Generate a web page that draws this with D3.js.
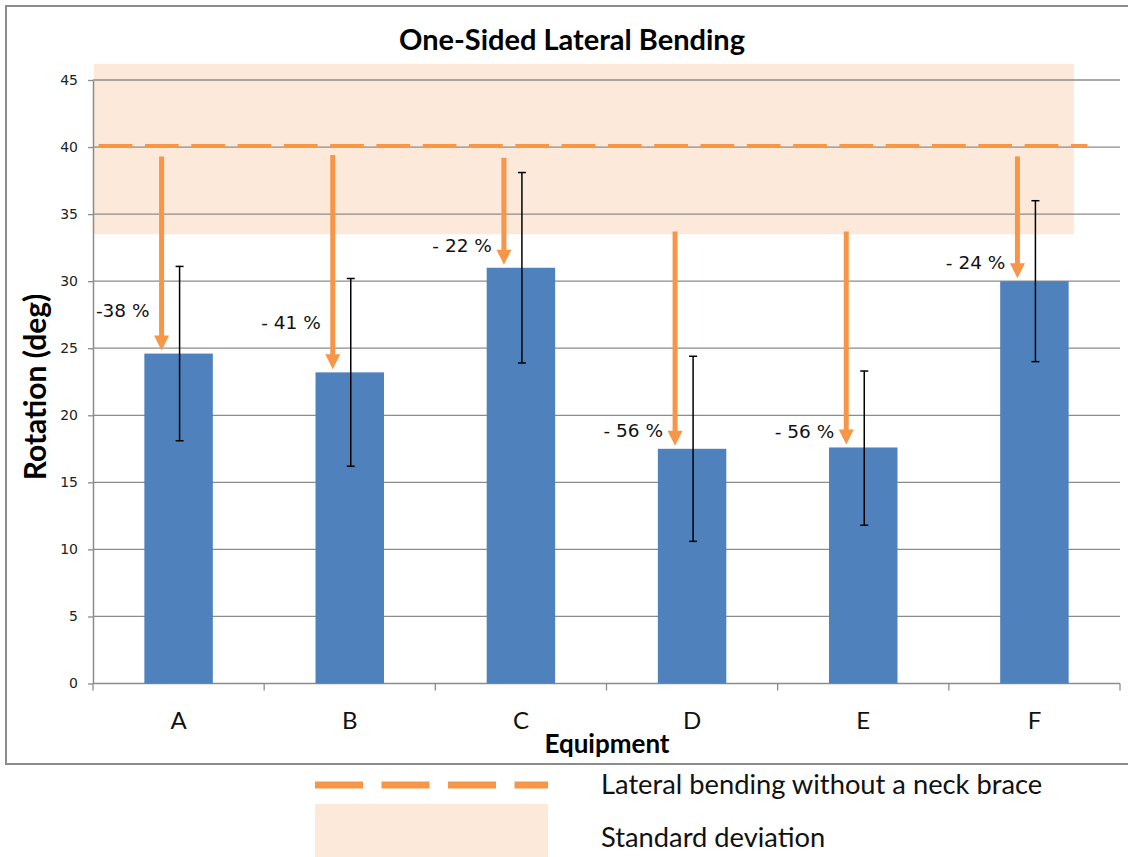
<!DOCTYPE html>
<html>
<head>
<meta charset="utf-8">
<script src="https://cdn.jsdelivr.net/npm/d3@7"></script>
<style>
  body { margin: 0; background: #fff; }
</style>
</head>
<body>
<div id="chart"></div>
<script>
// values
var categories = ["A", "B", "C", "D", "E", "F"];
var rotation = [24.6, 23.2, 31.0, 17.5, 17.6, 30.0];
var errLow = [18.1, 16.2, 23.9, 10.6, 11.8, 24.0];
var errHigh = [31.1, 30.2, 38.1, 24.4, 23.3, 36.0];
var changeLabels = ["-38 %", "- 41 %", "- 22 %", "- 56 %", "- 56 %", "- 24 %"];
var arrowFrom = [39.3, 39.4, 39.2, 33.7, 33.7, 39.3];
var labelAt = [27.35, 26.4, 32.2, 18.4, 18.3, 30.9];
var yTicks = [0, 5, 10, 15, 20, 25, 30, 35, 40, 45];

// reference without neck brace
var refMean = 40.0;
var refLow = 33.5;
var refHigh = 46.2;

var svgwidth = 1128;
var svgheight = 857;

var margin = { top: 80, right: 8, bottom: 173, left: 93 };
var width = svgwidth - margin.left - margin.right;
var height = 683.5 - margin.top;

var orange = "#F79646";
var blue = "#4F81BD";
var peach = "#FDE9D9";
var grey = "#8C8C8C";
var calibri = "Lato, 'Open Sans', sans-serif";
var verdana = "'DejaVu Sans', Verdana, sans-serif";

var svg = d3.select("#chart").append("svg")
  .attr("width", svgwidth)
  .attr("height", svgheight);

// chart frame
svg.append("rect")
  .attr("x", 6)
  .attr("y", 6)
  .attr("width", 1130)
  .attr("height", 758)
  .attr("fill", "none")
  .attr("stroke", grey)
  .attr("stroke-width", 2);

var chartgroup = svg.append("g")
  .attr("transform", `translate(${margin.left}, ${margin.top})`);

// scales
var xscale = d3.scaleBand()
  .domain(categories)
  .range([0, width])
  .padding(0);

var xpos = d3.scaleLinear()
  .domain([0, categories.length])
  .range([0, width]);

var yscale = d3.scaleLinear()
  .domain([0, 45])
  .range([height, 0]);

var bw = xscale.bandwidth();
var center = d => xscale(d) + bw / 2;

// standard deviation band
chartgroup.append("rect")
  .attr("x", xpos(0.005))
  .attr("y", yscale(refHigh))
  .attr("width", xpos(5.73) - xpos(0.005))
  .attr("height", yscale(refLow) - yscale(refHigh))
  .attr("fill", peach);

// gridlines
chartgroup.append("g")
  .selectAll("line")
  .data(yTicks.filter(d => d > 0))
  .enter()
  .append("line")
  .attr("x1", 0)
  .attr("x2", width)
  .attr("y1", d => yscale(d))
  .attr("y2", d => yscale(d))
  .attr("stroke", grey)
  .attr("stroke-width", 1.3);

// y axis
var yaxis = d3.axisLeft(yscale)
  .tickValues(yTicks)
  .tickSize(5)
  .tickPadding(10)
  .tickSizeOuter(0);

var yg = chartgroup.append("g").call(yaxis);
yg.select(".domain").attr("stroke", grey).attr("stroke-width", 1.5);
yg.selectAll(".tick line").attr("stroke", grey).attr("stroke-width", 1.3);
yg.selectAll(".tick text")
  .attr("font-family", verdana)
  .attr("font-size", "14px")
  .attr("fill", "#222");

// x axis with ticks on category boundaries
chartgroup.append("line")
  .attr("x1", 0)
  .attr("x2", width)
  .attr("y1", height)
  .attr("y2", height)
  .attr("stroke", grey)
  .attr("stroke-width", 1.5);

chartgroup.append("g")
  .selectAll("line")
  .data(d3.range(categories.length + 1))
  .enter()
  .append("line")
  .attr("x1", d => xpos(d))
  .attr("x2", d => xpos(d))
  .attr("y1", height)
  .attr("y2", height + 7)
  .attr("stroke", grey)
  .attr("stroke-width", 1.3);

chartgroup.append("g")
  .selectAll("text")
  .data(categories)
  .enter()
  .append("text")
  .attr("x", d => center(d))
  .attr("y", height + 45)
  .attr("text-anchor", "middle")
  .attr("font-family", calibri)
  .attr("font-size", "24px")
  .attr("fill", "#111")
  .text(d => d);

// dashed reference line
chartgroup.append("line")
  .attr("x1", xpos(0.033))
  .attr("x2", xpos(5.81))
  .attr("y1", yscale(refMean) - 1)
  .attr("y2", yscale(refMean) - 1)
  .attr("stroke", orange)
  .attr("stroke-width", 4)
  .attr("stroke-dasharray", "33.7,12.6");

// bars
var hdata = categories.map(function(c, i) {
  return {
    cat: c,
    value: rotation[i],
    low: errLow[i],
    high: errHigh[i],
    label: changeLabels[i],
    from: arrowFrom[i],
    labelY: labelAt[i]
  };
});

chartgroup.selectAll(".bar")
  .data(hdata)
  .enter()
  .append("rect")
  .attr("class", "bar")
  .attr("x", d => center(d.cat) - bw * 0.2)
  .attr("width", bw * 0.4)
  .attr("y", d => yscale(d.value))
  .attr("height", d => height - yscale(d.value))
  .attr("fill", blue);

// error bars
var errgroup = chartgroup.selectAll(".err")
  .data(hdata)
  .enter()
  .append("g")
  .attr("class", "err")
  .attr("stroke", "#000")
  .attr("stroke-width", 1.5);

errgroup.append("line")
  .attr("x1", d => center(d.cat) + 1)
  .attr("x2", d => center(d.cat) + 1)
  .attr("y1", d => yscale(d.high))
  .attr("y2", d => yscale(d.low));

errgroup.append("line")
  .attr("x1", d => center(d.cat) - 3)
  .attr("x2", d => center(d.cat) + 5)
  .attr("y1", d => yscale(d.high))
  .attr("y2", d => yscale(d.high));

errgroup.append("line")
  .attr("x1", d => center(d.cat) - 3)
  .attr("x2", d => center(d.cat) + 5)
  .attr("y1", d => yscale(d.low))
  .attr("y2", d => yscale(d.low));

// arrows from the reference to each bar
var arrowx = d => center(d.cat) - 17;
var arrowgroup = chartgroup.selectAll(".arrow")
  .data(hdata)
  .enter()
  .append("g")
  .attr("class", "arrow");

arrowgroup.append("line")
  .attr("x1", d => arrowx(d))
  .attr("x2", d => arrowx(d))
  .attr("y1", d => yscale(d.from))
  .attr("y2", d => yscale(d.value) - 14)
  .attr("stroke", orange)
  .attr("stroke-width", 5);

arrowgroup.append("path")
  .attr("d", function(d) {
    var x = arrowx(d);
    var tip = yscale(d.value) - 3;
    return `M${x - 7.5},${tip - 15} L${x + 7.5},${tip - 15} L${x},${tip} Z`;
  })
  .attr("fill", orange);

chartgroup.selectAll(".pct")
  .data(hdata)
  .enter()
  .append("text")
  .attr("class", "pct")
  .attr("x", d => arrowx(d) - 12)
  .attr("y", d => yscale(d.labelY))
  .attr("text-anchor", "end")
  .attr("font-family", verdana)
  .attr("font-size", "18.5px")
  .attr("fill", "#111")
  .text(d => d.label);

// title and axis labels
svg.append("text")
  .attr("x", 572)
  .attr("y", 50)
  .attr("text-anchor", "middle")
  .attr("font-family", calibri)
  .attr("font-weight", "bold")
  .attr("font-size", "29px")
  .attr("fill", "#000")
  .text("One-Sided Lateral Bending");

svg.append("text")
  .attr("transform", "translate(46, 387) rotate(-90)")
  .attr("text-anchor", "middle")
  .attr("font-family", calibri)
  .attr("font-weight", "bold")
  .attr("font-size", "30px")
  .attr("fill", "#000")
  .text("Rotation (deg)");

svg.append("text")
  .attr("x", 607)
  .attr("y", 753)
  .attr("text-anchor", "middle")
  .attr("font-family", calibri)
  .attr("font-weight", "bold")
  .attr("font-size", "26px")
  .attr("fill", "#000")
  .text("Equipment");

// legend
var legend = svg.append("g");

legend.append("line")
  .attr("x1", 315)
  .attr("x2", 548)
  .attr("y1", 785)
  .attr("y2", 785)
  .attr("stroke", orange)
  .attr("stroke-width", 7)
  .attr("stroke-dasharray", "48,18.5");

legend.append("rect")
  .attr("x", 315)
  .attr("y", 804)
  .attr("width", 233)
  .attr("height", 60)
  .attr("fill", peach);

legend.append("text")
  .attr("x", 601)
  .attr("y", 794)
  .attr("font-family", calibri)
  .attr("font-size", "27.3px")
  .attr("fill", "#111")
  .text("Lateral bending without a neck brace");

legend.append("text")
  .attr("x", 601)
  .attr("y", 847)
  .attr("font-family", calibri)
  .attr("font-size", "27.3px")
  .attr("fill", "#111")
  .text("Standard deviation");
</script>
</body>
</html>
